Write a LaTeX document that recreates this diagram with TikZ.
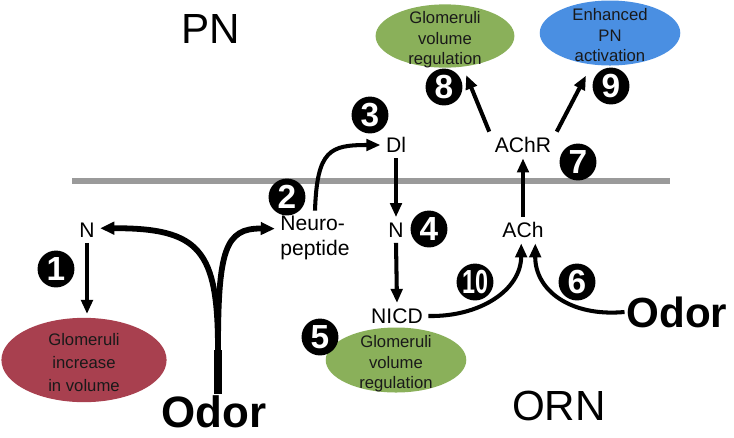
\documentclass[tikz,border=0pt]{standalone}
\usepackage{fontspec}
\setmainfont{Liberation Sans}
\usepackage{tikz}
\usetikzlibrary{shapes.geometric,arrows.meta,calc}
\definecolor{redvol}{HTML}{A8404F}
\definecolor{greenvol}{HTML}{8AB05A}
\definecolor{bluepn}{HTML}{4A8FE2}
\definecolor{membrane}{HTML}{9A9A9A}
\newcommand{\blobtext}[1]{\smash{\makebox[0pt]{\raisebox{-4.5pt}{\begin{tabular}[c]{@{}c@{}}#1\end{tabular}}}}}

\begin{document}
\begin{tikzpicture}[x=0.02cm,y=-0.02cm,
  lab/.style={inner sep=3pt,font=\fontsize{12}{14}\selectfont},
  big/.style={inner sep=0pt,font=\fontsize{24}{24}\selectfont},
  odor/.style={inner sep=1pt,font=\bfseries\fontsize{25}{25}\selectfont},
  num/.style={circle,fill=black,text=white,inner sep=0pt,minimum size=21pt,font=\bfseries\fontsize{19}{19}\selectfont},
  blob/.style={ellipse,inner sep=0pt,text=black!90,font=\fontsize{9.5}{11.5}\selectfont},
  arr/.style={line width=2.3pt,-{Triangle[length=8pt,width=6.5pt]}},
  odorarr/.style={line width=3.3pt,-{Triangle[length=8pt,width=7pt]}}]
\useasboundingbox (0,0) rectangle (734,437);
%Membrane
\draw [membrane,line width=3pt] (72,181) -- (670,181);
%Node Coordinates
\node at (211,29) [big] (NodePN) {PN};
\node at (559,406) [big] (NodeORN) {ORN};
\node at (87,230) [lab] (NodeN1) {N};
\node at (315,238) [lab,align=left] (NodeNeuro) {Neuro-\\peptide};
\node at (396,145) [lab] (NodeDl) {Dl};
\node at (396,230) [lab] (NodeN2) {N};
\node at (397,316) [lab] (NodeNICD) {NICD};
\node at (523,230) [lab] (NodeACh) {ACh};
\node at (523,145) [lab] (NodeAChR) {AChR};
\node at (214,412) [odor] (NodeOdor1) {Odor};
\node at (677,312) [odor,font=\bfseries\fontsize{24}{24}\selectfont] (NodeOdor2) {Odor};
\coordinate (Split) at (218,350);
\coordinate (StemTop) at (218,372);
%Effect Ellipses
\node at (84,360) [blob,fill=redvol,minimum width=94pt,minimum height=48pt,font=\fontsize{9.5}{13}\selectfont] (BlobRed) {\blobtext{Glomeruli\\increase\\in volume}};
\node at (396,360) [blob,fill=greenvol,minimum width=80pt,minimum height=37pt] (BlobGreen1) {\blobtext{Glomeruli\\volume\\regulation}};
\node at (445,36) [blob,fill=greenvol,minimum width=79pt,minimum height=36pt] (BlobGreen2) {\blobtext{Glomeruli\\volume\\regulation}};
\node at (610,33) [blob,fill=bluepn,minimum width=80pt,minimum height=37pt] (BlobBlue) {\blobtext{Enhanced\\PN\\activation}};
%connections
\draw [line width=4.8pt] (Split |- NodeOdor1.north) -- (Split);
\draw [odorarr] (StemTop) -- (Split) .. controls (218,250) and (200,228) .. ([yshift=1pt]NodeN1.east);
\draw [odorarr] (StemTop) -- (Split) .. controls (218,250) and (225,228) .. ($(NodeNeuro.north west)!0.33!(NodeNeuro.south west)$);
\draw [arr] (NodeN1.south) -- ([yshift=2pt]NodeN1.south |- BlobRed.north);
\draw [arr] (NodeNeuro.north) .. controls (317,150) and (330,145) .. (NodeDl.west);
\draw [arr] (NodeDl.south) -- (NodeN2.north);
\draw [arr] (NodeN2.south) -- (NodeNICD.north);
\draw [arr] (NodeNICD.east) .. controls (480,317) and (521,290) .. ([xshift=-1pt]NodeACh.south);
\draw [arr] (NodeOdor2.west) .. controls (570,317) and (535,290) .. ([xshift=7pt]NodeACh.south);
\draw [arr] (NodeACh.north) -- (NodeAChR.south);
\draw [arr,shorten >=5pt] (NodeAChR.north west) -- (BlobGreen2.-60);
\draw [arr,shorten >=7pt] (NodeAChR.north east) -- (BlobBlue.-120);
%Step Numbers
\node at (56,269) [num] (Num1) {1};
\node at (287,197) [num] (Num2) {2};
\node at (370,115) [num] (Num3) {3};
\node at (429,229) [num] (Num4) {4};
\node at (320,337) [num] (Num5) {5};
\node at (577,282) [num] (Num6) {6};
\node at (578,162) [num] (Num7) {7};
\node at (444,87) [num] (Num8) {8};
\node at (611,86) [num] (Num9) {9};
\node at (475,282) [num] (Num10) {\scalebox{0.7}[1]{10}};
\end{tikzpicture}
\end{document}
